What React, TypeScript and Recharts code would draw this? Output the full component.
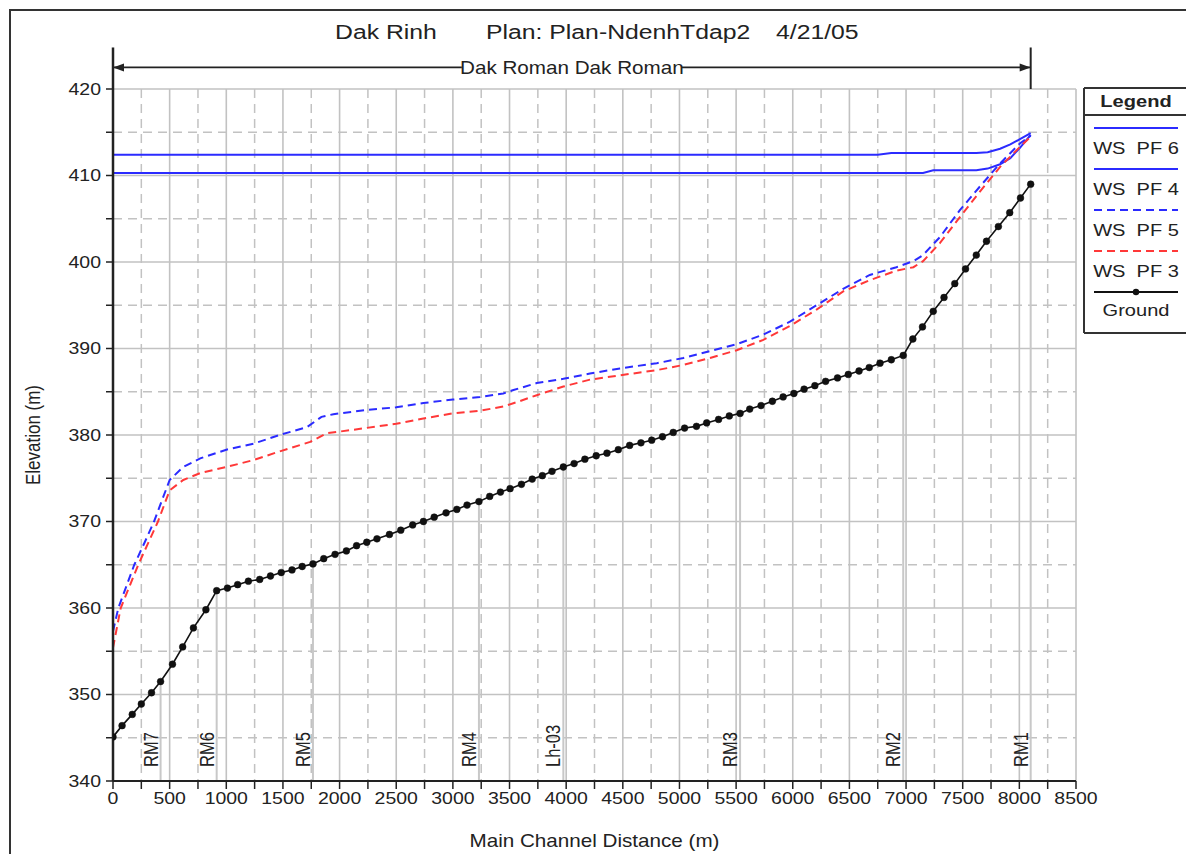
import React from 'react';
import { LineChart, Line, XAxis, YAxis, CartesianGrid, ReferenceLine, ReferenceDot } from 'recharts';

// text in the source picture is a little wider than Arial, so stretch it horizontally
const FONT = '"Liberation Sans", Arial, sans-serif';
const SX = 1.18;
const INK = '#222';
const BLUE = '#2b2bff';
const RED = '#ff3838';
const GRID = '#c2c2c2';

const W = 1186;
const H = 854;
const PLOT = { left: 113, right: 1076, top: 89, bottom: 781 };

// ground profile (main channel distance m, invert elevation m)
const groundX = [
  0, 80, 170, 250, 340, 420, 525, 615, 710, 820, 915, 1010, 1100, 1195, 1295, 1390, 1485, 1580, 1670, 1765,
  1860, 1960, 2060, 2150, 2240, 2330, 2440, 2540, 2645, 2740, 2835, 2940, 3035, 3125, 3230, 3325, 3420, 3505, 3605, 3700,
  3790, 3875, 3975, 4070, 4165, 4265, 4360, 4460, 4560, 4660, 4755, 4850, 4945, 5045, 5150, 5240, 5345, 5440, 5535, 5620,
  5720, 5820, 5915, 6010, 6100, 6195, 6290, 6395, 6490, 6585, 6675, 6770, 6870, 6975, 7060, 7145, 7240, 7335, 7430, 7525,
  7620, 7710, 7815, 7915, 8010, 8100,
];
const groundY = [
  345.1, 346.4, 347.7, 348.9, 350.2, 351.5, 353.5, 355.5, 357.7, 359.8, 362.0, 362.3, 362.7, 363.1, 363.3, 363.7, 364.1, 364.4, 364.8, 365.1,
  365.7, 366.2, 366.6, 367.2, 367.6, 368.0, 368.5, 369.0, 369.6, 370.0, 370.5, 371.0, 371.4, 371.9, 372.3, 372.9, 373.4, 373.8, 374.3, 374.9,
  375.3, 375.8, 376.3, 376.7, 377.2, 377.6, 377.9, 378.3, 378.8, 379.1, 379.4, 379.8, 380.3, 380.8, 381.0, 381.4, 381.8, 382.2, 382.5, 383.0,
  383.4, 383.9, 384.4, 384.8, 385.3, 385.7, 386.2, 386.6, 387.0, 387.4, 387.8, 388.3, 388.7, 389.2, 391.1, 392.5, 394.3, 395.9, 397.5, 399.2,
  400.8, 402.4, 404.1, 405.7, 407.4, 409.0,
];

// water surface profiles
const pf6X = [0, 3000, 6000, 6750, 6870, 7240, 7620, 7720, 7830, 7920, 8005, 8100];
const pf6Y = [412.4, 412.4, 412.4, 412.4, 412.6, 412.6, 412.6, 412.7, 413.1, 413.6, 414.2, 414.9];

const pf4X = [0, 3000, 6000, 6750, 7150, 7240, 7620, 7720, 7830, 7920, 8005, 8100];
const pf4Y = [410.3, 410.3, 410.3, 410.3, 410.3, 410.6, 410.6, 410.8, 411.3, 412.0, 413.2, 414.7];

const pf5X = [
  0, 47, 188, 280, 362, 500, 620, 770, 1000, 1240, 1470, 1710, 1840, 1945, 2240, 2500, 2740, 3000, 3240, 3445, 3535,
  3740, 3975, 4210, 4475, 4800, 5035, 5270, 5505, 5740, 5975, 6210, 6445, 6680, 6915, 7065, 7150, 7300, 7475, 7650, 7830, 8005, 8100,
];
const pf5Y = [
  357.3, 360.0, 365.0, 367.6, 370.0, 374.8, 376.3, 377.3, 378.3, 379.0, 380.0, 380.9, 382.1, 382.4, 382.9, 383.2, 383.7, 384.1, 384.4, 384.8, 385.2,
  386.0, 386.5, 387.1, 387.7, 388.3, 388.9, 389.7, 390.5, 391.6, 393.1, 395.0, 396.9, 398.5, 399.4, 400.1, 400.8, 402.9, 406.0, 408.7, 411.4, 413.7, 414.6,
];

const pf3X = [
  0, 68, 223, 310, 397, 500, 620, 770, 1000, 1240, 1470, 1740, 1885, 2120, 2500, 2740, 3000, 3240, 3445, 3565,
  3740, 3975, 4210, 4475, 4800, 5035, 5270, 5505, 5740, 5975, 6210, 6445, 6680, 6915, 7065, 7150, 7300, 7475, 7650, 7830, 8005, 8100,
];
const pf3Y = [
  355.4, 360.0, 365.0, 367.5, 370.0, 373.6, 374.8, 375.6, 376.3, 377.1, 378.1, 379.2, 380.2, 380.6, 381.3, 381.9, 382.5, 382.8, 383.3, 383.8,
  384.6, 385.6, 386.4, 386.9, 387.5, 388.1, 388.9, 389.8, 391.0, 392.6, 394.5, 396.6, 397.9, 399.0, 399.4, 400.1, 402.2, 405.2, 408.1, 411.0, 413.3, 414.5,
];

// river stations marked on the profile
const rmStations = [420, 915, 1765, 3230, 3975, 5535, 6975, 8100];
const rmLabels = ['RM7', 'RM6', 'RM5', 'RM4', 'Lh-03', 'RM3', 'RM2', 'RM1'];

const xMajor = [0, 500, 1000, 1500, 2000, 2500, 3000, 3500, 4000, 4500, 5000, 5500, 6000, 6500, 7000, 7500, 8000, 8500];
const xMinor = [250, 750, 1250, 1750, 2250, 2750, 3250, 3750, 4250, 4750, 5250, 5750, 6250, 6750, 7250, 7750, 8250];
const yMajor = [340, 350, 360, 370, 380, 390, 400, 410, 420];
const yMinor = [345, 355, 365, 375, 385, 395, 405, 415];

const reachName = 'Dak Roman Dak Roman';
const reachEnd = 8100;

const zip = (xs: number[], ys: number[]) => xs.map((x, i) => ({ x, y: ys[i] }));
const ground = zip(groundX, groundY);
const pf6 = zip(pf6X, pf6Y);
const pf4 = zip(pf4X, pf4Y);
const pf5 = zip(pf5X, pf5Y);
const pf3 = zip(pf3X, pf3Y);

const xTicks = [...xMajor, ...xMinor].sort((a, b) => a - b);
const yTicks = [...yMajor, ...yMinor].sort((a, b) => a - b);

function XTick(p: any) {
  if (p.payload.value % 500 !== 0) return <g />;
  return (
    <text transform={`translate(${p.x},${p.y}) scale(${SX},1)`} textAnchor="middle" dy="0.71em"
      fontSize={16.5} fontFamily={FONT} fill={INK}>
      {p.payload.value}
    </text>
  );
}

function YTick(p: any) {
  if (p.payload.value % 10 !== 0) return <g />;
  return (
    <text transform={`translate(${p.x},${p.y}) scale(${SX},1)`} textAnchor="end" dy="0.36em"
      fontSize={16.5} fontFamily={FONT} fill={INK}>
      {p.payload.value}
    </text>
  );
}

const rmText = (label: string) => (p: any) => (
  <text transform={`translate(${p.cx - 3},${p.cy - 14}) rotate(-90) scale(1,${SX})`} textAnchor="start"
    fontSize={16.5} fontFamily={FONT} fill={INK}>
    {label}
  </text>
);

function ReachArrow(p: any) {
  const x1 = Number(p.x1), x2 = Number(p.x2), y = Number(p.y1);
  const mid = (x1 + x2) / 2;
  const gap = 110;
  return (
    <g>
      <line x1={x1} y1={y} x2={mid - gap} y2={y} stroke={INK} strokeWidth={1.8} />
      <line x1={mid + gap} y1={y} x2={x2} y2={y} stroke={INK} strokeWidth={1.8} />
      <polygon points={`${x1},${y} ${x1 + 11},${y - 4} ${x1 + 11},${y + 4}`} fill={INK} />
      <polygon points={`${x2},${y} ${x2 - 11},${y - 4} ${x2 - 11},${y + 4}`} fill={INK} />
      <text transform={`translate(${mid},${y}) scale(${SX},1)`} textAnchor="middle" dy="0.36em"
        fontSize={17.5} fontFamily={FONT} fill={INK}>
        {reachName}
      </text>
    </g>
  );
}

const legendItems = [
  { label: 'WS  PF 6', color: BLUE, dash: undefined, dot: false },
  { label: 'WS  PF 4', color: BLUE, dash: undefined, dot: false },
  { label: 'WS  PF 5', color: BLUE, dash: '8 5', dot: false },
  { label: 'WS  PF 3', color: RED, dash: '8 5', dot: false },
  { label: 'Ground', color: '#111', dash: undefined, dot: true },
];

function Overlay() {
  const lx = 1084;
  const ly = 88;
  return (
    <svg width={W} height={H} style={{ position: 'absolute', left: 0, top: 0, pointerEvents: 'none' }}>
      {/* outer frame */}
      <line x1={10} y1={9} x2={10} y2={H} stroke="#333" strokeWidth={2} />
      <line x1={9} y1={10} x2={W} y2={10} stroke="#333" strokeWidth={2} />

      {/* title */}
      <g fontFamily={FONT} fontSize={21} fill={INK}>
        <text transform={`translate(335,31) scale(${SX},1)`} dy="0.36em">Dak Rinh</text>
        <text transform={`translate(486,31) scale(${SX},1)`} dy="0.36em">Plan: Plan-NdenhTdap2</text>
        <text transform={`translate(776,31) scale(${SX},1)`} dy="0.36em">4/21/05</text>
      </g>

      {/* axis titles */}
      <text transform={`translate(${(PLOT.left + PLOT.right) / 2},841) scale(${SX},1)`} textAnchor="middle" dy="0.36em"
        fontFamily={FONT} fontSize={17.5} fill={INK}>
        Main Channel Distance (m)
      </text>
      <text transform={`translate(33,${(PLOT.top + PLOT.bottom) / 2}) rotate(-90) scale(1,${SX})`} textAnchor="middle" dy="0.36em"
        fontFamily={FONT} fontSize={17} fill={INK}>
        Elevation (m)
      </text>

      {/* legend box */}
      <line x1={lx} y1={ly} x2={lx} y2={333} stroke="#333" strokeWidth={2} />
      <line x1={lx} y1={ly} x2={W} y2={ly} stroke="#333" strokeWidth={2} />
      <line x1={lx} y1={333} x2={W} y2={333} stroke="#333" strokeWidth={2} />
      <line x1={lx} y1={115} x2={W} y2={115} stroke="#333" strokeWidth={2} />
      <text transform={`translate(1136,101) scale(${SX},1)`} textAnchor="middle" dy="0.36em"
        fontFamily={FONT} fontSize={17} fontWeight="bold" fill={INK}>
        Legend
      </text>
      {legendItems.map((it, i) => {
        const y = 128 + i * 41;
        return (
          <g key={it.label}>
            <line x1={1094} y1={y} x2={1178} y2={y} stroke={it.color} strokeWidth={2} strokeDasharray={it.dash} />
            {it.dot && <circle cx={1136} cy={y} r={3.2} fill="#111" />}
            <text transform={`translate(1136,${i === 4 ? y + 18 : y + 20}) scale(${SX},1)`} textAnchor="middle" dy="0.36em"
              fontFamily={FONT} fontSize={17} fill={INK} xmlSpace="preserve" style={{ whiteSpace: 'pre' }}>
              {it.label}
            </text>
          </g>
        );
      })}
    </svg>
  );
}

export default function App() {
  return (
    <div style={{ position: 'relative', width: W, height: H, overflow: 'hidden', background: '#fff' }}>
      <style>{'body{margin:0}'}</style>
      <LineChart width={W} height={H}
        margin={{ top: PLOT.top, right: W - PLOT.right, bottom: 0, left: 0 }}>
        <CartesianGrid verticalValues={xMinor} horizontalValues={yMinor} stroke={GRID} strokeWidth={1.5} strokeDasharray="9 6" />
        <CartesianGrid verticalValues={xMajor} horizontalValues={yMajor} stroke={GRID} strokeWidth={1.6} />
        <XAxis type="number" dataKey="x" domain={[0, 8500]} ticks={xTicks} interval={0} allowDataOverflow
          height={H - PLOT.bottom} tickSize={8} tickMargin={3} tick={<XTick />}
          axisLine={{ stroke: INK, strokeWidth: 2 }} tickLine={{ stroke: INK, strokeWidth: 1.5 }} />
        <YAxis type="number" domain={[340, 420]} ticks={yTicks} interval={0} allowDataOverflow
          width={PLOT.left} tickSize={7} tickMargin={5} tick={<YTick />}
          axisLine={{ stroke: INK, strokeWidth: 2.5 }} tickLine={{ stroke: INK, strokeWidth: 1.5 }} />

        {rmStations.map((st) => (
          <ReferenceLine key={'rl' + st}
            segment={[{ x: st, y: 340 }, { x: st, y: groundY[groundX.indexOf(st)] }]}
            stroke="#c8c8c8" strokeWidth={2} />
        ))}
        {rmStations.map((st, i) => (
          <ReferenceDot key={'rd' + st} x={st} y={340} r={0} ifOverflow="visible" shape={rmText(rmLabels[i])} />
        ))}

        {/* reach arrow above the plot */}
        <ReferenceLine segment={[{ x: 0, y: 420 }, { x: 0, y: 424.8 }]} ifOverflow="visible" stroke={INK} strokeWidth={2.5} />
        <ReferenceLine segment={[{ x: reachEnd, y: 420 }, { x: reachEnd, y: 424.8 }]} ifOverflow="visible" stroke={INK} strokeWidth={2} />
        <ReferenceLine segment={[{ x: 0, y: 422.5 }, { x: reachEnd, y: 422.5 }]} ifOverflow="visible" shape={ReachArrow} />

        <Line data={pf6} dataKey="y" stroke={BLUE} strokeWidth={2} dot={false} isAnimationActive={false} type="linear" />
        <Line data={pf4} dataKey="y" stroke={BLUE} strokeWidth={2} dot={false} isAnimationActive={false} type="linear" />
        <Line data={pf5} dataKey="y" stroke={BLUE} strokeWidth={2} strokeDasharray="8 5" dot={false} isAnimationActive={false} type="linear" />
        <Line data={pf3} dataKey="y" stroke={RED} strokeWidth={2} strokeDasharray="8 5" dot={false} isAnimationActive={false} type="linear" />
        <Line data={ground} dataKey="y" stroke="#111" strokeWidth={1.6} isAnimationActive={false} type="linear"
          dot={{ r: 3.4, fill: '#111', stroke: '#111', strokeWidth: 0.5 }} />
      </LineChart>
      <Overlay />
    </div>
  );
}
